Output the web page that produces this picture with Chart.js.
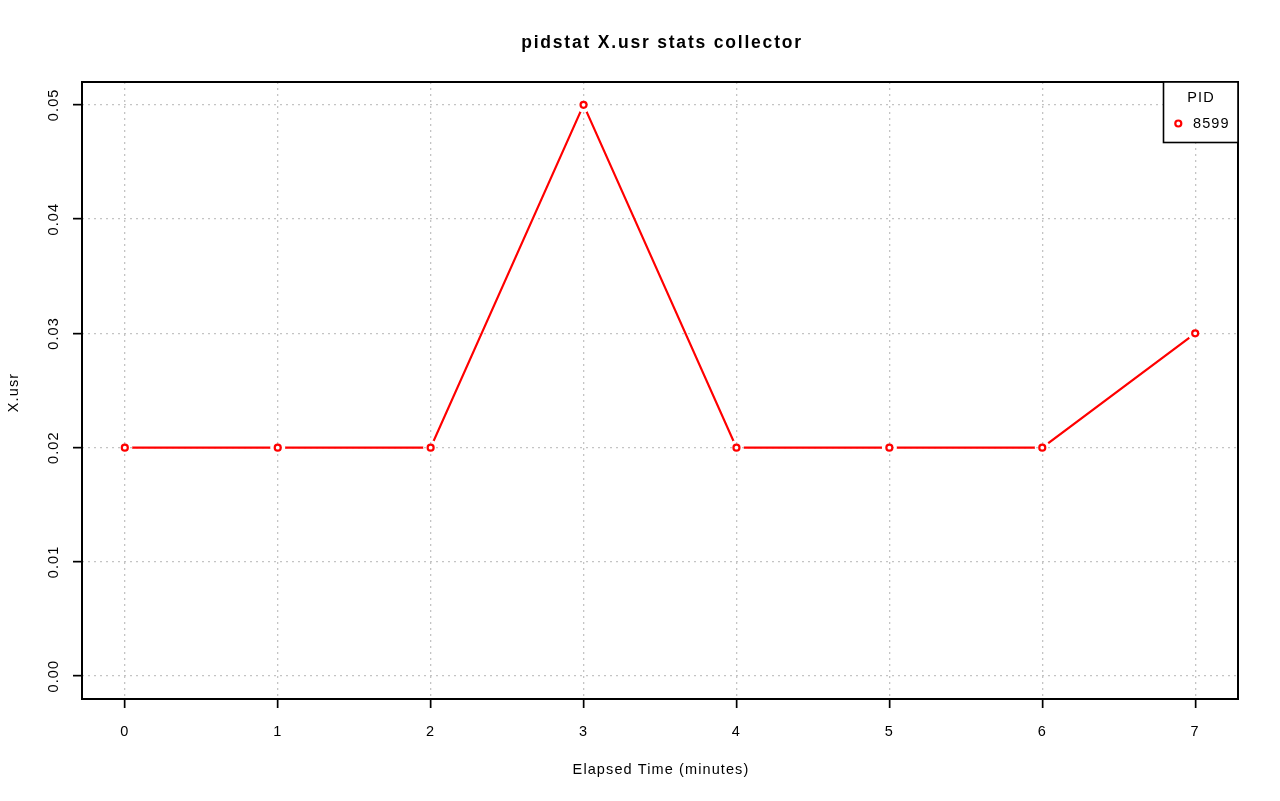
<!DOCTYPE html>
<html>
<head>
<meta charset="utf-8">
<script src="https://cdn.jsdelivr.net/npm/chart.js@4/dist/chart.umd.min.js"></script>
<style>
  html, body { margin: 0; padding: 0; background: #ffffff; }
  #wrap { width: 1280px; height: 801px; position: relative; }
</style>
</head>
<body>
<div id="wrap"><canvas id="c" width="1280" height="801"></canvas></div>
<script>
// ---- data ----
const chartTitle = 'pidstat X.usr stats collector';
const xAxisTitle = 'Elapsed Time (minutes)';
const yAxisTitle = 'X.usr';
const legendTitle = 'PID';
const seriesName = '8599';
const elapsedMinutes = [0, 1, 2, 3, 4, 5, 6, 7];
const usrValues = [0.02, 0.02, 0.02, 0.05, 0.02, 0.02, 0.02, 0.03];
const xTicks = [0, 1, 2, 3, 4, 5, 6, 7];
const yTicks = [0.00, 0.01, 0.02, 0.03, 0.04, 0.05];
const yTickLabels = ['0.00', '0.01', '0.02', '0.03', '0.04', '0.05'];

const RED = '#ff0000';
const GRID = '#c4c4c4';
const FONT = '"Liberation Sans", Arial, Helvetica, sans-serif';
const points = elapsedMinutes.map((x, i) => ({ x: x, y: usrValues[i] }));

const spacingPlugin = {
  id: 'spacing',
  beforeLayout(chart) { chart.ctx.letterSpacing = '1.1px'; },
  beforeDraw(chart) { chart.ctx.letterSpacing = '1.1px'; }
};

// leave a gap in the line around each point (R type = "b")
const gapPlugin = {
  id: 'gap',
  beforeDatasetDraw(chart, args) {
    if (args.index !== 0) return;
    const ctx = chart.ctx;
    const pts = chart.getDatasetMeta(1).data;
    ctx.save();
    ctx.beginPath();
    ctx.rect(0, 0, chart.width, chart.height);
    pts.forEach(p => { ctx.moveTo(p.x + 7.5, p.y); ctx.arc(p.x, p.y, 7.5, 0, Math.PI * 2); });
    ctx.clip('evenodd');
  },
  afterDatasetDraw(chart, args) {
    if (args.index !== 0) return;
    chart.ctx.restore();
  }
};

const decorPlugin = {
  id: 'decor',
  afterDraw(chart) {
    const ctx = chart.ctx;
    const a = chart.chartArea;
    ctx.save();
    // frame
    ctx.strokeStyle = '#000';
    ctx.lineWidth = 2;
    ctx.setLineDash([]);
    ctx.strokeRect(a.left, a.top, a.right - a.left, a.bottom - a.top);

    // title
    ctx.fillStyle = '#000';
    ctx.letterSpacing = '1.8px';
    ctx.font = 'bold 17.5px ' + FONT;
    ctx.textAlign = 'center';
    ctx.textBaseline = 'middle';
    ctx.fillText(chartTitle, (a.left + a.right) / 2 + 2, 43.5);

    // axis titles
    ctx.letterSpacing = '1.1px';
    ctx.font = '14.5px ' + FONT;
    ctx.fillText(xAxisTitle, (a.left + a.right) / 2 + 1, 770);
    ctx.save();
    ctx.translate(14, (a.top + a.bottom) / 2 + 2);
    ctx.rotate(-Math.PI / 2);
    ctx.fillText(yAxisTitle, 0, 0);
    ctx.restore();

    // legend
    const lx1 = 1163.5, ly1 = a.top, lx2 = a.right, ly2 = 142.5;
    ctx.fillStyle = '#fff';
    ctx.fillRect(lx1, ly1, lx2 - lx1, ly2 - ly1);
    ctx.lineWidth = 1.6;
    ctx.strokeStyle = '#000';
    ctx.strokeRect(lx1, ly1, lx2 - lx1, ly2 - ly1);
    ctx.fillStyle = '#000';
    ctx.textAlign = 'center';
    ctx.fillText(legendTitle, 1201, 97.5);
    ctx.textAlign = 'left';
    ctx.fillText(seriesName, 1193, 124);
    ctx.beginPath();
    ctx.arc(1178.3, 123.5, 3, 0, Math.PI * 2);
    ctx.fillStyle = '#fff';
    ctx.fill();
    ctx.lineWidth = 2.2;
    ctx.strokeStyle = RED;
    ctx.stroke();
    ctx.restore();
  }
};

const gridOpts = {
  color: GRID,
  lineWidth: 1.3,
  drawTicks: true,
  tickLength: 9,
  tickColor: '#000',
  tickWidth: 1.7,
  tickBorderDash: []
};

new Chart(document.getElementById('c'), {
  type: 'scatter',
  data: {
    datasets: [
      {
        label: seriesName,
        data: points,
        showLine: true,
        borderColor: RED,
        borderWidth: 2.2,
        pointRadius: 0,
        pointHoverRadius: 0,
        tension: 0
      },
      {
        label: seriesName,
        data: points,
        showLine: false,
        pointRadius: 3,
        pointHoverRadius: 3,
        pointBorderWidth: 2.2,
        pointBorderColor: RED,
        pointBackgroundColor: '#ffffff'
      }
    ]
  },
  plugins: [spacingPlugin, gapPlugin, decorPlugin],
  options: {
    responsive: false,
    animation: false,
    events: [],
    layout: { padding: { top: 82, right: 42, bottom: 0, left: 0 } },
    plugins: { legend: { display: false }, title: { display: false }, tooltip: { enabled: false } },
    scales: {
      x: {
        type: 'linear',
        min: -0.28,
        max: 7.28,
        afterFit(s) { s.height = 102; },
        afterBuildTicks(s) { s.ticks = xTicks.map(v => ({ value: v })); },
        border: { display: false, dash: [2, 4] },
        grid: gridOpts,
        ticks: {
          color: '#000',
          font: { family: FONT, size: 14.5 },
          padding: 15,
          maxRotation: 0,
          minRotation: 0,
          autoSkip: false,
          callback: (v) => String(v)
        }
      },
      y: {
        type: 'linear',
        min: -0.002,
        max: 0.052,
        afterFit(s) { s.width = 82; },
        afterBuildTicks(s) { s.ticks = yTicks.map(v => ({ value: v })); },
        border: { display: false, dash: [2, 4] },
        grid: gridOpts,
        ticks: {
          color: '#000',
          font: { family: FONT, size: 14.5 },
          padding: 3,
          minRotation: 90,
          maxRotation: 90,
          crossAlign: 'center',
          autoSkip: false,
          callback: (v) => {
            const i = yTicks.findIndex(t => Math.abs(t - v) < 1e-9);
            return i >= 0 ? yTickLabels[i] : '';
          }
        }
      }
    }
  }
});
</script>
</body>
</html>
